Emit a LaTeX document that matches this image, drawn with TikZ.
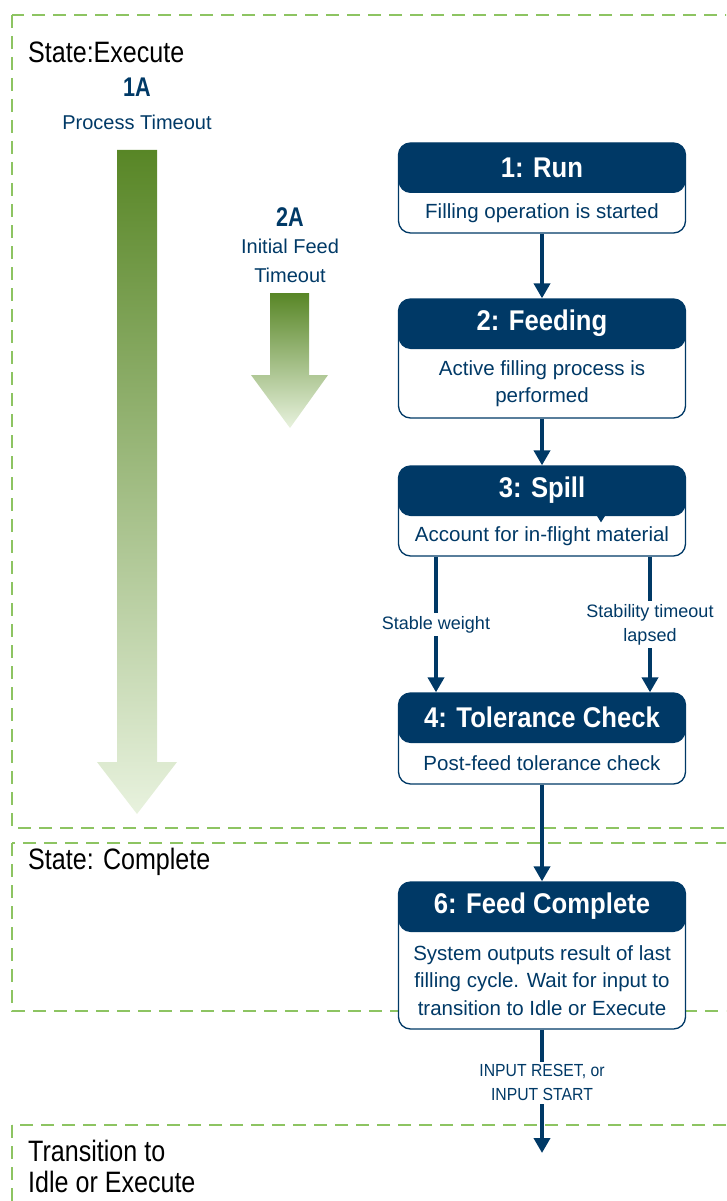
\documentclass[tikz,border=0pt]{standalone}
\usepackage{fontspec}
\setmainfont{Liberation Sans}
\newfontfamily\condA{Liberation Sans}[FakeStretch=0.85]
\newfontfamily\condB{Liberation Sans}[FakeStretch=0.9]
\newfontfamily\condC{Liberation Sans}[FakeStretch=0.8]
\usetikzlibrary{arrows.meta,calc}
\definecolor{navy}{RGB}{0,57,102}
\definecolor{zonegreen}{RGB}{141,196,98}
\definecolor{gdark}{RGB}{88,134,38}
\definecolor{glight}{RGB}{232,242,222}
\begin{document}
\begin{tikzpicture}[x=1pt,y=-1pt,
  stepbox/.style={draw=navy, line width=1.3pt, fill=white, rounded corners=12pt,
    minimum width=287pt, inner sep=0pt,
    path picture={\fill[navy] (path picture bounding box.north west) rectangle ([yshift=-50pt]path picture bounding box.north east);}},
  headtxt/.style={text=white, font=\condB\bfseries\fontsize{28.5}{32}\selectfont, inner sep=0pt},
  bodytxt/.style={text=navy, font=\fontsize{20.5}{27.5}\selectfont, align=center, inner sep=0pt},
  flow/.style={draw=navy, line width=4pt, -{Triangle[width=16pt,length=15pt]}},
  lbl/.style={fill=white, text=navy, font=\fontsize{18}{24}\selectfont, align=center, inner sep=3pt},
  lblsmall/.style={fill=white, text=navy, font=\condB\fontsize{17.5}{24}\selectfont, align=center, inner sep=3pt},
  zone/.style={draw=zonegreen, line width=2.4pt, dash pattern=on 13pt off 8pt},
  zonetxt/.style={text=black, font=\condA\fontsize{29.5}{31}\selectfont, align=left, anchor=west, inner sep=0pt},
  tcode/.style={text=navy, font=\condC\bfseries\fontsize{27}{30}\selectfont, inner sep=0pt},
  tname/.style={text=navy, font=\fontsize{20}{29}\selectfont, align=center, inner sep=0pt},
  timer/.style={top color=gdark, bottom color=glight}
]
\useasboundingbox (0,0) rectangle (726,1201);
\clip (0,0) rectangle (726,1201);

% zones
\draw[zone] (12,15) rectangle (780,828);
\draw[zone] (12,843) rectangle (780,1011);
\draw[zone] (12,1125) rectangle (780,1260);

\node[zonetxt] (zexec) at (28,52) {State:Execute};
\node[zonetxt] (zcomp) at (28,862) {State: Complete};
\node[zonetxt] (ztrans) at (28,1166) {Transition to\\Idle or Execute};

% timeout arrows
\shade[timer] (117,150) -- (157,150) -- (157,762) -- (177,762) -- (137,814) -- (97,762) -- (117,762) -- cycle;
\shade[timer] (270,293) -- (309,293) -- (309,375) -- (328,375) -- (290,428) -- (251,375) -- (270,375) -- cycle;

\node[tcode] (t1code) at (137,87) {1A};
\node[tname] (t1name) at (137,122) {Process Timeout};
\node[tcode] (t2code) at (290,217) {2A};
\node[tname] (t2name) at (290,260.5) {Initial Feed\\Timeout};

% steps
\node[stepbox, minimum height=90pt] (run) at (542,188) {};
\node[headtxt] (run-h) at ([yshift=-25pt]run.north) {1: Run};
\node[bodytxt] (run-b) at ($([yshift=-50pt]run.north)!0.5!(run.south)$) {Filling operation is started};

\node[stepbox, minimum height=119pt] (feed) at (542,358.5) {};
\node[headtxt] (feed-h) at ([yshift=-25pt]feed.north) {2: Feeding};
\node[bodytxt] (feed-b) at ($([yshift=-50pt]feed.north)!0.5!(feed.south)$) {Active filling process is\\performed};

\node[stepbox, minimum height=90pt] (spill) at (542,511) {};
\node[headtxt] (spill-h) at ([yshift=-25pt]spill.north) {3: Spill};
\node[bodytxt] (spill-b) at ($([yshift=-50pt]spill.north)!0.5!(spill.south)$) {Account for in-flight material};
\fill[navy] ([xshift=54pt,yshift=-49pt]spill.north) -- ([xshift=64pt,yshift=-49pt]spill.north) -- ([xshift=59pt,yshift=-57pt]spill.north) -- cycle;

\node[stepbox, minimum height=91pt] (tol) at (542,738.5) {};
\node[headtxt] (tol-h) at ([yshift=-25pt]tol.north) {4: Tolerance Check};
\node[bodytxt] (tol-b) at ($([yshift=-50pt]tol.north)!0.5!(tol.south)$) {Post-feed tolerance check};

\node[stepbox, minimum height=147pt] (fc) at (542,955.5) {};
\node[headtxt] (fc-h) at ([yshift=-25pt]fc.north) {6: Feed Complete};
\node[bodytxt] (fc-b) at ($([yshift=-50pt]fc.north)!0.5!(fc.south)$) {System outputs result of last\\filling cycle. Wait for input to\\transition to Idle or Execute};

% connectors
\draw[flow] (run) -- (feed);
\draw[flow] (feed) -- (spill);
\draw[flow] ([xshift=-106pt]spill.south) -- node[lbl] (lsw) {Stable weight} ([xshift=-106pt]tol.north);
\draw[flow] ([xshift=108pt]spill.south) -- node[lbl] (lst) {Stability timeout\\lapsed} ([xshift=108pt]tol.north);
\draw[flow] (tol) -- (fc);
\coordinate (out) at (542,1153);
\draw[flow] (fc) -- node[lblsmall, pos=0.43] (lin) {INPUT RESET, or\\INPUT START} (out);
\end{tikzpicture}
\end{document}
